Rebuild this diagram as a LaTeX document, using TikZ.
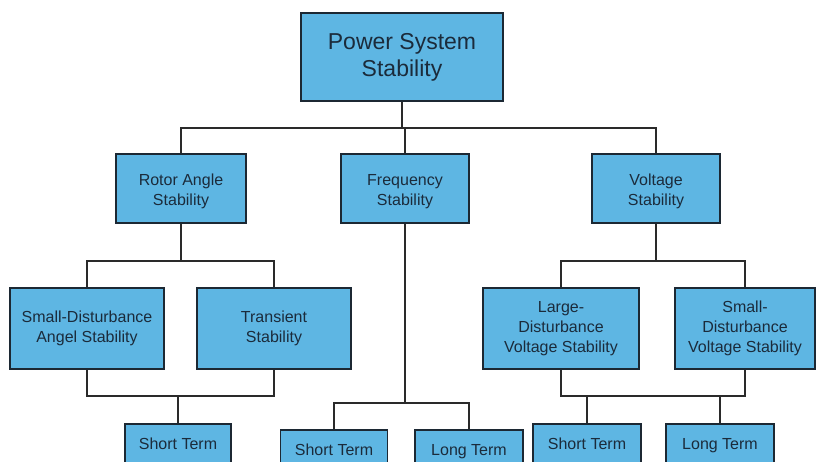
\documentclass[tikz,border=0pt]{standalone}
\usepackage{fontspec}
\setmainfont{Liberation Sans}
\definecolor{boxblue}{HTML}{5EB6E3}
\definecolor{boxedge}{HTML}{1C2833}
\definecolor{boxtext}{HTML}{1B2B3B}
\definecolor{wire}{HTML}{2A2A2A}
\tikzset{
  block/.style={draw=boxedge, fill=boxblue, line width=1.5pt, align=center,
    text=boxtext, inner sep=0pt, font=\fontsize{16}{20}\selectfont},
  midblock/.style={block, text height=33pt, text depth=0pt},
  leafblock/.style={block, text height=11.6pt, text depth=0pt},
  headblock/.style={block, font=\fontsize{23}{27}\selectfont},
  wirepath/.style={draw=wire, line width=1.4pt}
}
\begin{document}
\begin{tikzpicture}[x=1pt, y=-1pt]
\useasboundingbox (0,0) rectangle (816,461);
\fill[white] (0,0) rectangle (816,461);
\clip (0,0) rectangle (816,461);

% bus-bar heights
\coordinate (busA) at (0,128);
\coordinate (busB) at (0,261);
\coordinate (busC) at (0,396);
\coordinate (busD) at (0,403);

% root
\node[headblock, minimum width=202, minimum height=88] (top) at (402,57) {Power System\\Stability};

% second level
\node[midblock, minimum width=130, minimum height=69] (rot) at (181,188.5) {Rotor Angle\\Stability};
\node[midblock, minimum width=128, minimum height=69] (freq) at (405,188.5) {Frequency\\Stability};
\node[midblock, minimum width=128, minimum height=69] (volt) at (656,188.5) {Voltage\\Stability};

% third level
\node[block, minimum width=154, minimum height=81] (sda) at (87,328.5) {Small-Disturbance\\Angel Stability};
\node[block, minimum width=154, minimum height=81] (tr) at (274,328.5) {Transient\\Stability};
\node[block, minimum width=156, minimum height=81] (lds) at (561,328.5) {Large-\\Disturbance\\Voltage Stability};
\node[block, minimum width=140, minimum height=81] (sdv) at (745,328.5) {Small-\\Disturbance\\Voltage Stability};

% bottom level
\node[leafblock, minimum width=106, minimum height=40] (st1) at (178,444) {Short Term};
\node[leafblock, minimum width=107, minimum height=40] (st2) at (334,450) {Short Term};
\node[leafblock, minimum width=108, minimum height=40] (lt2) at (469,450) {Long Term};
\node[leafblock, minimum width=108, minimum height=40] (st3) at (587,444) {Short Term};
\node[leafblock, minimum width=108, minimum height=40] (lt3) at (720,444) {Long Term};

% connectors
\path[wirepath] (top.south) -- (top.south |- busA);
\path[wirepath] (rot.north) -- (rot.north |- busA) -- (volt.north |- busA) -- (volt.north);
\path[wirepath] (freq.north) -- (freq.north |- busA);

\path[wirepath] (rot.south) -- (rot.south |- busB);
\path[wirepath] (sda.north) -- (sda.north |- busB) -- (tr.north |- busB) -- (tr.north);
\path[wirepath] (sda.south) -- (sda.south |- busC) -- (tr.south |- busC) -- (tr.south);
\path[wirepath] (st1.north) -- (st1.north |- busC);

\path[wirepath] (freq.south) -- (freq.south |- busD);
\path[wirepath] (st2.north) -- (st2.north |- busD) -- (lt2.north |- busD) -- (lt2.north);

\path[wirepath] (volt.south) -- (volt.south |- busB);
\path[wirepath] (lds.north) -- (lds.north |- busB) -- (sdv.north |- busB) -- (sdv.north);
\path[wirepath] (lds.south) -- (lds.south |- busC) -- (sdv.south |- busC) -- (sdv.south);
\path[wirepath] (st3.north) -- (st3.north |- busC);
\path[wirepath] (lt3.north) -- (lt3.north |- busC);
\end{tikzpicture}
\end{document}
